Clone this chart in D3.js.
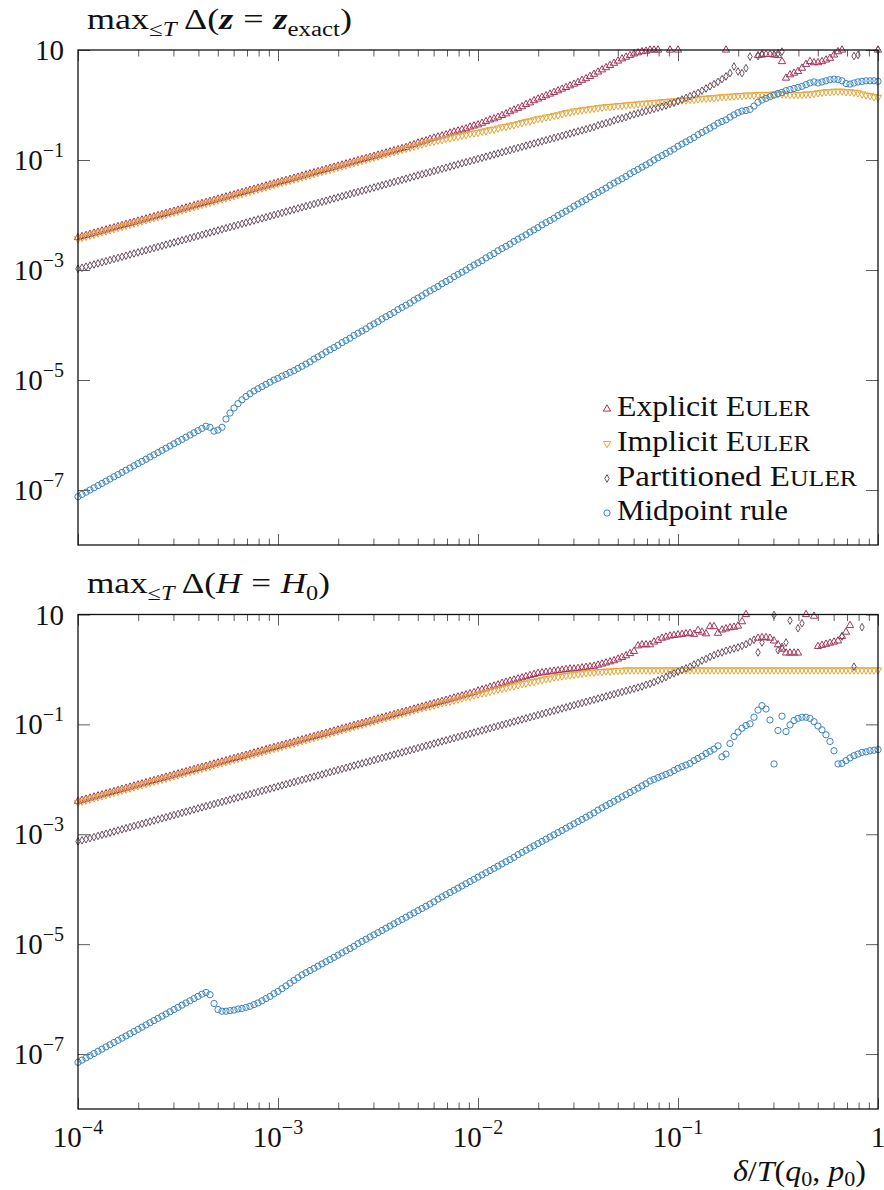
<!DOCTYPE html>
<html><head><meta charset="utf-8">
<script src="https://cdn.jsdelivr.net/npm/d3@7"></script>
<style>
html,body{margin:0;padding:0;background:#fff;}
svg{display:block;}
svg text, svg tspan{font-family:"Liberation Serif" !important;}
</style></head><body>
<svg id="chart" width="884" height="1190"></svg>
<script>
// ---------------- DATA (log10 of the error Δ, one value per step size) ----------------
// step sizes δ/T: 201 log-spaced samples from 1e-4 to 1 (50 per decade)
const stepGrid = d3.range(201).map(i => Math.pow(10, -4 + i / 50));

const seriesNames = ["Explicit Euler", "Implicit Euler", "Partitioned Euler", "Midpoint rule"];

// Top panel: max_{<=T} Δ(z = z_exact)
const explicitTop = [
-2.41,-2.39,-2.37,-2.35,-2.33,-2.31,-2.29,-2.27,-2.25,-2.23,-2.21,-2.19,-2.17,-2.15,-2.13,-2.11,-2.09,-2.07,-2.05,-2.03,
-2.01,-1.99,-1.97,-1.95,-1.93,-1.91,-1.89,-1.87,-1.85,-1.83,-1.81,-1.79,-1.77,-1.75,-1.73,-1.71,-1.69,-1.67,-1.65,-1.63,
-1.61,-1.59,-1.57,-1.55,-1.53,-1.51,-1.49,-1.47,-1.45,-1.43,-1.41,-1.39,-1.37,-1.35,-1.33,-1.31,-1.29,-1.27,-1.25,-1.23,
-1.21,-1.19,-1.17,-1.15,-1.13,-1.11,-1.09,-1.07,-1.05,-1.03,-1.01,-0.99,-0.97,-0.95,-0.93,-0.91,-0.89,-0.87,-0.85,-0.83,
-0.81,-0.79,-0.77,-0.74,-0.72,-0.69,-0.67,-0.65,-0.62,-0.60,-0.58,-0.56,-0.54,-0.51,-0.49,-0.47,-0.45,-0.43,-0.40,-0.38,
-0.36,-0.33,-0.30,-0.27,-0.25,-0.22,-0.19,-0.16,-0.12,-0.09,-0.06,-0.03,0.01,0.04,0.08,0.11,0.14,0.17,0.20,0.23,
0.26,0.29,0.32,0.35,0.38,0.41,0.45,0.48,0.52,0.56,0.60,0.64,0.68,0.72,0.76,0.80,0.84,0.87,0.90,0.93,
0.95,0.97,0.98,1.00,1.00,1.00,null,null,1.00,null,1.00,null,null,null,null,null,null,null,null,null,
null,null,1.00,null,null,null,null,null,null,null,0.90,0.91,0.92,0.92,0.91,0.90,0.79,0.49,0.55,0.58,
0.61,0.67,0.74,0.79,0.77,0.77,0.79,0.82,0.85,0.91,0.97,1.00,null,null,null,null,null,null,null,null,
1.00];
const implicitTop = [
-2.43,-2.41,-2.39,-2.37,-2.35,-2.33,-2.31,-2.29,-2.27,-2.25,-2.23,-2.21,-2.19,-2.17,-2.15,-2.13,-2.11,-2.09,-2.07,-2.05,
-2.03,-2.01,-1.99,-1.97,-1.95,-1.93,-1.91,-1.89,-1.87,-1.85,-1.83,-1.81,-1.79,-1.77,-1.75,-1.73,-1.71,-1.69,-1.67,-1.65,
-1.63,-1.61,-1.59,-1.57,-1.55,-1.53,-1.51,-1.49,-1.47,-1.45,-1.43,-1.41,-1.39,-1.37,-1.35,-1.33,-1.31,-1.29,-1.27,-1.25,
-1.23,-1.21,-1.19,-1.17,-1.15,-1.13,-1.11,-1.09,-1.07,-1.05,-1.03,-1.01,-0.99,-0.97,-0.95,-0.93,-0.91,-0.89,-0.87,-0.85,
-0.83,-0.81,-0.79,-0.77,-0.75,-0.73,-0.71,-0.69,-0.67,-0.66,-0.64,-0.63,-0.61,-0.60,-0.58,-0.57,-0.55,-0.54,-0.52,-0.51,
-0.50,-0.48,-0.47,-0.45,-0.44,-0.42,-0.40,-0.39,-0.37,-0.36,-0.34,-0.32,-0.30,-0.29,-0.27,-0.25,-0.24,-0.22,-0.21,-0.19,
-0.18,-0.16,-0.14,-0.13,-0.11,-0.10,-0.09,-0.08,-0.07,-0.06,-0.05,-0.04,-0.03,-0.03,-0.02,-0.01,-0.01,0.00,0.01,0.01,
0.02,0.03,0.03,0.04,0.04,0.05,0.06,0.06,0.07,0.07,0.08,0.09,0.09,0.10,0.10,0.11,0.12,0.12,0.13,0.13,
0.14,0.15,0.15,0.16,0.16,0.17,0.17,0.18,0.18,0.18,0.19,0.19,0.19,0.19,0.20,0.20,0.20,0.20,0.19,0.19,
0.19,0.19,0.20,0.20,0.21,0.22,0.23,0.24,0.24,0.25,0.25,0.25,0.24,0.24,0.23,0.22,0.20,0.18,0.17,0.15,
0.14];
const partitionedTop = [
-2.98,-2.96,-2.94,-2.92,-2.90,-2.88,-2.86,-2.84,-2.82,-2.80,-2.78,-2.76,-2.74,-2.72,-2.70,-2.68,-2.66,-2.64,-2.62,-2.60,
-2.58,-2.56,-2.54,-2.52,-2.50,-2.48,-2.46,-2.44,-2.42,-2.40,-2.38,-2.36,-2.34,-2.32,-2.30,-2.28,-2.26,-2.24,-2.22,-2.20,
-2.18,-2.16,-2.14,-2.12,-2.10,-2.08,-2.06,-2.04,-2.02,-2.00,-1.98,-1.96,-1.94,-1.92,-1.90,-1.88,-1.86,-1.84,-1.82,-1.80,
-1.78,-1.76,-1.74,-1.72,-1.70,-1.68,-1.66,-1.64,-1.62,-1.60,-1.58,-1.56,-1.54,-1.52,-1.50,-1.48,-1.46,-1.44,-1.42,-1.40,
-1.38,-1.36,-1.34,-1.32,-1.30,-1.28,-1.26,-1.24,-1.22,-1.20,-1.18,-1.16,-1.14,-1.12,-1.10,-1.08,-1.06,-1.04,-1.02,-1.00,
-0.98,-0.96,-0.94,-0.92,-0.90,-0.88,-0.86,-0.84,-0.82,-0.80,-0.78,-0.76,-0.74,-0.72,-0.70,-0.68,-0.66,-0.64,-0.62,-0.60,
-0.58,-0.56,-0.54,-0.52,-0.50,-0.48,-0.46,-0.44,-0.42,-0.40,-0.37,-0.35,-0.33,-0.31,-0.28,-0.26,-0.24,-0.22,-0.19,-0.17,
-0.15,-0.13,-0.11,-0.09,-0.07,-0.05,-0.03,-0.01,0.02,0.04,0.07,0.10,0.13,0.16,0.19,0.22,0.26,0.30,0.34,0.38,
0.42,0.47,0.52,0.58,0.70,0.61,0.58,0.67,0.88,null,0.89,0.93,null,null,null,0.94,0.97,null,null,null,
null,null,null,null,null,null,null,null,null,null,null,null,null,null,0.89,0.91,null,null,null,null,
1.00];
const midpointTop = [
-7.12,-7.08,-7.04,-7.00,-6.96,-6.92,-6.88,-6.84,-6.80,-6.76,-6.72,-6.68,-6.64,-6.60,-6.56,-6.52,-6.48,-6.44,-6.40,-6.36,
-6.32,-6.28,-6.24,-6.20,-6.16,-6.12,-6.08,-6.04,-6.00,-5.96,-5.92,-5.88,-5.84,-5.86,-5.93,-5.91,-5.86,-5.71,-5.60,-5.51,
-5.43,-5.36,-5.30,-5.25,-5.20,-5.16,-5.12,-5.08,-5.04,-5.00,-4.97,-4.93,-4.90,-4.86,-4.83,-4.79,-4.75,-4.71,-4.67,-4.62,
-4.58,-4.54,-4.49,-4.45,-4.41,-4.37,-4.32,-4.28,-4.24,-4.19,-4.15,-4.11,-4.07,-4.02,-3.98,-3.94,-3.89,-3.85,-3.81,-3.77,
-3.72,-3.68,-3.64,-3.60,-3.55,-3.51,-3.47,-3.42,-3.38,-3.34,-3.30,-3.25,-3.21,-3.17,-3.12,-3.08,-3.04,-3.00,-2.95,-2.91,
-2.87,-2.83,-2.78,-2.74,-2.70,-2.65,-2.61,-2.57,-2.53,-2.48,-2.44,-2.40,-2.36,-2.31,-2.27,-2.23,-2.18,-2.14,-2.10,-2.06,
-2.01,-1.97,-1.93,-1.89,-1.84,-1.80,-1.76,-1.72,-1.67,-1.63,-1.59,-1.55,-1.51,-1.46,-1.42,-1.38,-1.34,-1.30,-1.25,-1.21,
-1.17,-1.13,-1.09,-1.05,-1.00,-0.96,-0.92,-0.88,-0.84,-0.80,-0.75,-0.71,-0.67,-0.63,-0.59,-0.54,-0.50,-0.46,-0.42,-0.38,
-0.33,-0.30,-0.27,-0.22,-0.18,-0.14,-0.11,-0.10,-0.08,-0.02,0.05,0.09,0.12,0.15,0.18,0.21,0.23,0.26,0.28,0.30,
0.32,0.34,0.37,0.40,0.42,0.40,0.42,0.44,0.46,0.47,0.46,0.44,0.39,0.38,0.40,0.42,0.43,0.44,0.44,0.44,
0.43];

// Bottom panel: max_{<=T} Δ(H = H_0)
const explicitBottom = [
-2.40,-2.38,-2.36,-2.34,-2.32,-2.30,-2.28,-2.26,-2.24,-2.22,-2.20,-2.18,-2.16,-2.14,-2.12,-2.10,-2.08,-2.06,-2.04,-2.02,
-2.00,-1.98,-1.96,-1.94,-1.92,-1.90,-1.88,-1.86,-1.84,-1.82,-1.80,-1.78,-1.76,-1.74,-1.72,-1.70,-1.68,-1.66,-1.64,-1.62,
-1.60,-1.58,-1.56,-1.54,-1.52,-1.50,-1.48,-1.46,-1.44,-1.42,-1.40,-1.38,-1.36,-1.34,-1.32,-1.30,-1.28,-1.26,-1.24,-1.22,
-1.20,-1.18,-1.16,-1.14,-1.12,-1.10,-1.08,-1.06,-1.04,-1.02,-1.00,-0.98,-0.96,-0.94,-0.92,-0.90,-0.88,-0.86,-0.84,-0.82,
-0.80,-0.78,-0.76,-0.74,-0.72,-0.70,-0.68,-0.66,-0.64,-0.62,-0.60,-0.58,-0.56,-0.54,-0.52,-0.50,-0.48,-0.46,-0.44,-0.42,
-0.39,-0.37,-0.35,-0.32,-0.30,-0.28,-0.25,-0.23,-0.21,-0.19,-0.17,-0.15,-0.13,-0.11,-0.09,-0.07,-0.06,-0.05,-0.04,-0.03,
-0.02,-0.01,0.00,0.01,0.01,0.02,0.03,0.04,0.05,0.06,0.08,0.10,0.12,0.14,0.16,0.19,0.22,0.25,0.29,0.33,
0.43,0.45,0.45,0.45,0.50,0.53,0.57,0.59,0.61,0.62,0.63,0.64,0.65,0.66,0.64,0.71,0.68,0.65,0.78,0.78,
0.66,0.72,0.74,0.76,0.77,0.79,0.87,1.00,null,null,0.57,0.58,0.58,0.57,0.52,0.45,0.37,0.30,0.30,0.30,
0.30,null,1.00,null,0.97,0.42,0.44,0.46,0.48,0.50,0.52,0.60,0.68,0.80,null,null,null,null,null,null,
null];
const implicitBottom = [
-2.42,-2.40,-2.38,-2.36,-2.34,-2.32,-2.30,-2.28,-2.26,-2.24,-2.22,-2.20,-2.18,-2.16,-2.14,-2.12,-2.10,-2.08,-2.06,-2.04,
-2.02,-2.00,-1.98,-1.96,-1.94,-1.92,-1.90,-1.88,-1.86,-1.84,-1.82,-1.80,-1.78,-1.76,-1.74,-1.72,-1.70,-1.68,-1.66,-1.64,
-1.62,-1.60,-1.58,-1.56,-1.54,-1.52,-1.50,-1.48,-1.46,-1.44,-1.42,-1.40,-1.38,-1.36,-1.34,-1.32,-1.30,-1.28,-1.26,-1.24,
-1.22,-1.20,-1.18,-1.16,-1.14,-1.12,-1.10,-1.08,-1.06,-1.04,-1.02,-1.00,-0.98,-0.96,-0.94,-0.92,-0.90,-0.88,-0.86,-0.84,
-0.82,-0.80,-0.78,-0.76,-0.74,-0.72,-0.70,-0.68,-0.67,-0.65,-0.63,-0.61,-0.59,-0.58,-0.56,-0.54,-0.52,-0.50,-0.49,-0.47,
-0.45,-0.43,-0.42,-0.40,-0.38,-0.36,-0.35,-0.33,-0.31,-0.30,-0.28,-0.26,-0.25,-0.23,-0.22,-0.20,-0.19,-0.17,-0.16,-0.14,
-0.13,-0.12,-0.11,-0.10,-0.09,-0.08,-0.07,-0.06,-0.05,-0.05,-0.04,-0.04,-0.03,-0.03,-0.02,-0.02,-0.02,-0.01,-0.01,-0.01,
-0.01,-0.01,-0.01,-0.01,-0.01,-0.01,-0.01,-0.01,-0.01,-0.01,-0.01,-0.01,-0.01,-0.01,-0.01,-0.01,-0.01,-0.01,-0.01,-0.01,
-0.01,-0.01,-0.01,-0.01,-0.01,-0.01,-0.01,-0.01,-0.01,-0.01,-0.01,-0.01,-0.01,-0.01,-0.01,-0.01,-0.01,-0.01,-0.01,-0.01,
-0.01,-0.01,-0.01,-0.01,-0.01,-0.01,-0.01,-0.01,-0.01,-0.01,-0.01,-0.01,-0.01,-0.01,-0.01,-0.01,-0.01,-0.01,-0.01,-0.01,
-0.01];
const partitionedBottom = [
-3.13,-3.11,-3.09,-3.07,-3.05,-3.03,-3.01,-2.99,-2.97,-2.95,-2.93,-2.91,-2.89,-2.87,-2.85,-2.83,-2.81,-2.79,-2.77,-2.75,
-2.73,-2.71,-2.69,-2.67,-2.65,-2.63,-2.61,-2.59,-2.57,-2.55,-2.53,-2.51,-2.49,-2.47,-2.45,-2.43,-2.41,-2.39,-2.37,-2.35,
-2.33,-2.31,-2.29,-2.27,-2.25,-2.23,-2.21,-2.19,-2.17,-2.15,-2.13,-2.11,-2.09,-2.07,-2.05,-2.03,-2.01,-1.99,-1.97,-1.95,
-1.93,-1.91,-1.89,-1.87,-1.85,-1.83,-1.81,-1.79,-1.77,-1.75,-1.73,-1.71,-1.69,-1.67,-1.65,-1.63,-1.61,-1.59,-1.57,-1.55,
-1.53,-1.51,-1.49,-1.47,-1.45,-1.43,-1.41,-1.39,-1.37,-1.35,-1.33,-1.31,-1.29,-1.27,-1.25,-1.23,-1.21,-1.19,-1.17,-1.15,
-1.13,-1.11,-1.09,-1.07,-1.05,-1.03,-1.01,-0.99,-0.97,-0.95,-0.93,-0.91,-0.89,-0.87,-0.85,-0.83,-0.81,-0.79,-0.77,-0.75,
-0.73,-0.71,-0.69,-0.67,-0.65,-0.63,-0.61,-0.59,-0.57,-0.55,-0.53,-0.51,-0.49,-0.47,-0.45,-0.43,-0.41,-0.39,-0.37,-0.35,
-0.33,-0.31,-0.28,-0.26,-0.23,-0.20,-0.17,-0.14,-0.10,-0.07,-0.04,-0.01,0.02,0.05,0.09,0.12,0.16,0.19,0.23,0.26,
0.29,0.31,0.34,0.36,0.38,0.40,0.43,0.46,0.50,0.54,0.31,0.49,null,null,0.99,0.35,0.41,0.49,0.89,null,
0.75,0.84,null,null,null,null,null,null,null,null,null,0.60,null,null,0.05,null,0.77,null,null,null,
null];
const midpointBottom = [
-7.15,-7.11,-7.07,-7.03,-6.99,-6.95,-6.91,-6.87,-6.83,-6.79,-6.75,-6.71,-6.67,-6.63,-6.59,-6.55,-6.51,-6.47,-6.43,-6.39,
-6.35,-6.31,-6.27,-6.23,-6.19,-6.15,-6.11,-6.07,-6.03,-5.99,-5.95,-5.91,-5.88,-5.92,-6.08,-6.19,-6.22,-6.22,-6.21,-6.20,
-6.18,-6.17,-6.15,-6.13,-6.10,-6.07,-6.03,-5.99,-5.95,-5.90,-5.86,-5.81,-5.76,-5.71,-5.66,-5.61,-5.56,-5.52,-5.48,-5.44,
-5.40,-5.36,-5.32,-5.28,-5.24,-5.20,-5.16,-5.12,-5.08,-5.04,-4.99,-4.95,-4.91,-4.87,-4.83,-4.79,-4.75,-4.71,-4.67,-4.63,
-4.59,-4.55,-4.51,-4.47,-4.43,-4.39,-4.35,-4.31,-4.27,-4.23,-4.18,-4.14,-4.10,-4.06,-4.02,-3.98,-3.94,-3.90,-3.86,-3.82,
-3.78,-3.74,-3.70,-3.66,-3.62,-3.58,-3.54,-3.50,-3.46,-3.42,-3.37,-3.33,-3.29,-3.25,-3.21,-3.17,-3.13,-3.09,-3.05,-3.01,
-2.97,-2.93,-2.89,-2.85,-2.81,-2.77,-2.73,-2.69,-2.65,-2.61,-2.56,-2.52,-2.48,-2.44,-2.40,-2.36,-2.32,-2.28,-2.24,-2.20,
-2.16,-2.12,-2.08,-2.03,-2.00,-1.97,-1.94,-1.91,-1.88,-1.84,-1.80,-1.77,-1.74,-1.71,-1.66,-1.62,-1.58,-1.53,-1.49,-1.45,
-1.39,-1.59,-1.54,-1.35,-1.22,-1.14,-1.07,-1.02,-0.99,-0.87,-0.74,-0.66,-0.72,-0.92,-1.72,-1.11,-0.85,-1.13,-1.01,-0.93,
-0.89,-0.87,-0.87,-0.89,-0.95,-1.03,-1.10,-1.19,-1.31,-1.48,-1.72,-1.71,-1.66,-1.61,-1.57,-1.54,-1.51,-1.50,-1.48,-1.47,
-1.46];

// axis ticks
const xMajorTicks = [1e-4, 1e-3, 1e-2, 1e-1, 1];
const xTickLabels = [["10","\u22124"],["10","\u22123"],["10","\u22122"],["10","\u22121"],["1",""]];
const yTicks = [10, 1e-1, 1e-3, 1e-5, 1e-7];
const yTickLabels = [["10",""],["10","\u22121"],["10","\u22123"],["10","\u22125"],["10","\u22127"]];

// ---------------- DRAWING ----------------
[explicitTop, implicitTop, partitionedTop, midpointTop, explicitBottom, implicitBottom, partitionedBottom, midpointBottom]
  .forEach((a, k) => { if (a.length !== stepGrid.length) throw new Error("series " + k + " has " + a.length + " values"); });

const SERIF = '"Liberation Serif"';
const colors = ["#a5345a", "#e6a53a", "#6a5364", "#3a85c1"];
const FS = 29, FSS = 20;
const svg = d3.select("#chart");
const x = d3.scaleLog().domain([1e-4, 1]).range([78, 878]);
const xMinorTicks = [];
[1e-4, 1e-3, 1e-2, 1e-1].forEach(d => { for (let m = 2; m <= 9; m++) xMinorTicks.push(d * m); });

const symbols = [
  d3.symbol().type(d3.symbolTriangle).size(23)(),
  d3.symbol().type(d3.symbolTriangle).size(23)(),
  d3.symbol().type(d3.symbolDiamond).size(17)(),
  d3.symbol().type(d3.symbolCircle).size(31)()
];
const rot = [0, 180, 0, 0];

const panels = [
  { top: 50, bottom: 545, series: [explicitTop, implicitTop, partitionedTop, midpointTop], xLabels: false },
  { top: 614.5, bottom: 1109, series: [explicitBottom, implicitBottom, partitionedBottom, midpointBottom], xLabels: true }
];

function addText(parent) {
  return parent.append("text").style("font-family", SERIF).attr("fill", "#111");
}
function span(t) {
  return t.append("tspan").style("font-family", SERIF);
}

panels.forEach(p => {
  const y = d3.scaleLog().domain([1e-8, 10]).range([p.bottom, p.top]);
  const g = svg.append("g");
  const tickStyle = sel => { sel.select(".domain").remove(); sel.selectAll("line").attr("stroke", "#333").attr("stroke-width", 0.8); sel.selectAll("text").remove(); };
  g.append("g").attr("transform", `translate(0,${p.bottom})`).call(d3.axisBottom(x).tickValues(xMajorTicks).tickSize(-11).tickSizeOuter(0).tickFormat("")).call(tickStyle);
  g.append("g").attr("transform", `translate(0,${p.bottom})`).call(d3.axisBottom(x).tickValues(xMinorTicks).tickSize(-6.5).tickSizeOuter(0).tickFormat("")).call(tickStyle);
  g.append("g").attr("transform", `translate(0,${p.top})`).call(d3.axisTop(x).tickValues(xMajorTicks).tickSize(-11).tickSizeOuter(0).tickFormat("")).call(tickStyle);
  g.append("g").attr("transform", `translate(0,${p.top})`).call(d3.axisTop(x).tickValues(xMinorTicks).tickSize(-6.5).tickSizeOuter(0).tickFormat("")).call(tickStyle);
  g.append("g").attr("transform", `translate(78,0)`).call(d3.axisLeft(y).tickValues(yTicks).tickSize(-12).tickSizeOuter(0).tickFormat("")).call(tickStyle);
  g.append("g").attr("transform", `translate(878,0)`).call(d3.axisRight(y).tickValues(yTicks).tickSize(-12).tickSizeOuter(0).tickFormat("")).call(tickStyle);

  p.series.forEach((vals, k) => {
    const pts = vals.map((v, i) => ({ s: stepGrid[i], v })).filter(d => d.v !== null);
    g.append("g").selectAll("path").data(pts).join("path")
      .attr("d", symbols[k])
      .attr("transform", d => `translate(${x(d.s)},${y(Math.pow(10, d.v))}) rotate(${rot[k]})`)
      .attr("fill", "none").attr("stroke", colors[k]).attr("stroke-width", 1);
  });

  g.append("rect").attr("x", 78).attr("y", p.top).attr("width", 800).attr("height", p.bottom - p.top)
    .attr("fill", "none").attr("stroke", "#111").attr("stroke-width", 1.3);

  yTicks.forEach((t, i) => {
    const txt = addText(g).attr("x", 64).attr("y", y(t) + 10).attr("text-anchor", "end").attr("font-size", FS);
    span(txt).text(yTickLabels[i][0]);
    if (yTickLabels[i][1]) span(txt).attr("dy", -13).attr("font-size", FSS).text(yTickLabels[i][1]);
  });
  if (p.xLabels) {
    xMajorTicks.forEach((t, i) => {
      const txt = addText(g).attr("x", x(t)).attr("y", p.bottom + 38).attr("text-anchor", "middle").attr("font-size", FS);
      span(txt).text(xTickLabels[i][0]);
      if (xTickLabels[i][1]) span(txt).attr("dy", -13).attr("font-size", FSS).text(xTickLabels[i][1]);
    });
  }
});

function title(yb, parts, len) {
  const t = addText(svg).attr("x", 87).attr("y", yb).attr("font-size", FS)
    .attr("textLength", len).attr("lengthAdjust", "spacingAndGlyphs");
  parts.forEach(pt => {
    const s = span(t).text(pt.t);
    if (pt.dy) s.attr("dy", pt.dy);
    if (pt.dx) s.attr("dx", pt.dx);
    if (pt.fs) s.attr("font-size", pt.fs);
    if (pt.it) s.attr("font-style", "italic");
    if (pt.b) s.attr("font-weight", "bold");
  });
}
title(29, [
  { t: "max" }, { t: "\u2264", dy: 7, fs: FSS }, { t: "T", fs: FSS, it: 1 },
  { t: "\u0394(", dy: -7, dx: 6 }, { t: "z", it: 1, b: 1 }, { t: "=", dx: 8 }, { t: "z", it: 1, b: 1, dx: 8 },
  { t: "exact", dy: 7, fs: FSS }, { t: ")", dy: -7 }
], 265);
title(593, [
  { t: "max" }, { t: "\u2264", dy: 7, fs: FSS }, { t: "T", fs: FSS, it: 1 },
  { t: "\u0394(", dy: -7, dx: 6 }, { t: "H", it: 1 }, { t: "=", dx: 8 }, { t: "H", it: 1, dx: 8 },
  { t: "0", dy: 7, fs: FSS }, { t: ")", dy: -7 }
], 243);

{
  const t = addText(svg).attr("x", 733).attr("y", 1181).attr("font-size", FS)
    .attr("textLength", 133).attr("lengthAdjust", "spacingAndGlyphs");
  span(t).attr("font-style", "italic").text("\u03b4");
  span(t).text("/");
  span(t).attr("font-style", "italic").text("T");
  span(t).text("(");
  span(t).attr("font-style", "italic").text("q");
  span(t).attr("font-size", FSS).attr("dy", 5).text("0");
  span(t).attr("dy", -5).text(", ");
  span(t).attr("font-style", "italic").text("p");
  span(t).attr("font-size", FSS).attr("dy", 5).text("0");
  span(t).attr("dy", -5).text(")");
}

const legendBase = [416, 450.5, 485.5, 520];
const legendLen = [193, 193, 240, 171];
seriesNames.forEach((name, k) => {
  const yb = legendBase[k];
  svg.append("path").attr("d", symbols[k])
    .attr("transform", `translate(607,${yb - 7}) rotate(${rot[k]})`)
    .attr("fill", "none").attr("stroke", colors[k]).attr("stroke-width", 1);
  const t = addText(svg).attr("x", 617).attr("y", yb).attr("font-size", FS)
    .attr("textLength", legendLen[k]).attr("lengthAdjust", "spacingAndGlyphs");
  if (name.endsWith("Euler")) {
    span(t).text(name.replace("Euler", "E"));
    span(t).attr("font-size", FS * 0.78).text("ULER");
  } else {
    span(t).text(name);
  }
});
</script>
</body></html>
